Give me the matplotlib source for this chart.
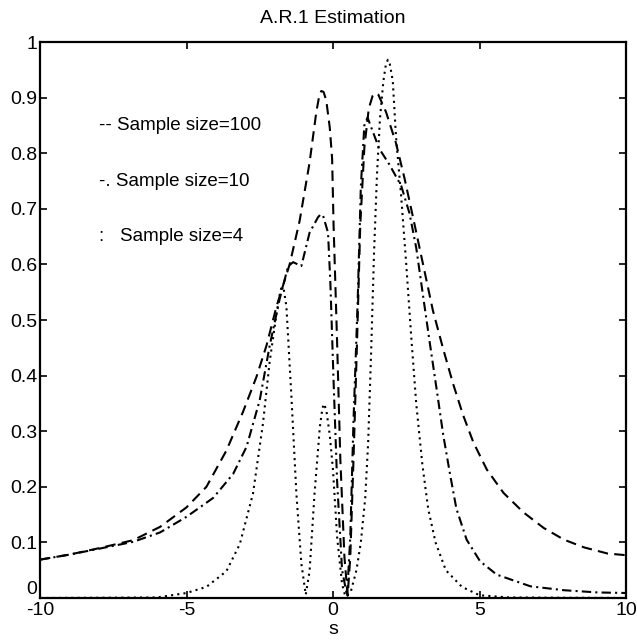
import matplotlib
matplotlib.use("Agg")
import matplotlib.pyplot as plt

# ---- data ----
x_n100 = [-10, -9, -7.95, -6.82, -5.9, -5, -4.32, -3.64, -3.07, -2.61, -2.27, -1.93,
          -1.48, -1.14, -0.8, -0.57, -0.47, -0.40, -0.32, -0.23, -0.11, -0.03, 0.02,
          0.14, 0.25, 0.39, 0.5, 0.59, 0.7, 0.82, 0.93, 1.07, 1.22, 1.35, 1.44, 1.55,
          1.81, 2.15, 2.44, 2.73, 3.07, 3.41, 3.76, 4.1, 4.44, 4.79, 5.25, 5.82, 6.5,
          7.19, 7.88, 8.57, 9.37, 10]
y_n100 = [0.069, 0.078, 0.09, 0.104, 0.128, 0.163, 0.20, 0.265, 0.335, 0.398, 0.454, 0.524,
          0.60, 0.678, 0.783, 0.874, 0.903, 0.912, 0.91, 0.895, 0.846, 0.79, 0.67,
          0.46, 0.25, 0.074, 0.004, 0.074, 0.25, 0.46, 0.67, 0.81, 0.88, 0.903, 0.908, 0.905,
          0.874, 0.818, 0.755, 0.685, 0.601, 0.517, 0.448, 0.385, 0.329, 0.28, 0.231, 0.189, 0.154,
          0.126, 0.105, 0.091, 0.08, 0.077]

x_n10 = [-10, -9, -7.95, -6.82, -5.9, -5, -4.09, -3.41, -2.95, -2.5, -2.16, -1.82, -1.53,
         -1.36, -1.2, -1.08, -0.8, -0.51, -0.42, -0.34, -0.17, -0.09, 0.02, 0.14, 0.31, 0.48,
         0.59, 0.7, 0.84, 0.95, 1.07, 1.18, 1.35, 1.58, 1.92, 2.33, 2.61, 2.84, 3.07, 3.3,
         3.53, 3.76, 3.99, 4.21, 4.56, 5.02, 5.59, 6.74, 7.88, 9.03, 10]
y_n10 = [0.069, 0.078, 0.089, 0.101, 0.118, 0.146, 0.18, 0.223, 0.272, 0.356, 0.454, 0.538, 0.597,
         0.604, 0.600, 0.597, 0.657, 0.685, 0.690, 0.688, 0.657, 0.567, 0.39, 0.21, 0.05, 0.004,
         0.11, 0.32, 0.53, 0.74, 0.85, 0.864, 0.84, 0.808, 0.78, 0.741, 0.692, 0.63, 0.545, 0.46,
         0.378, 0.294, 0.224, 0.161, 0.105, 0.066, 0.042, 0.021, 0.014, 0.01, 0.009]

x_n4 = [-10, -6, -5, -4.32, -3.64, -3.18, -2.73, -2.39, -2.16, -1.93, -1.82, -1.76, -1.68,
        -1.59, -1.42, -1.25, -1.08, -0.93, -0.8, -0.63, -0.45, -0.36, -0.3, -0.22, -0.11,
        0.0, 0.14, 0.31, 0.42, 0.6, 0.8, 0.95, 1.1, 1.2, 1.3, 1.4, 1.5, 1.6, 1.72, 1.8,
        1.87, 1.94, 2.04, 2.15, 2.33, 2.5, 2.67, 2.84, 3.05, 3.25, 3.5, 3.85, 4.4, 5.0, 6.0, 10]
y_n4 = [0.0, 0.001, 0.009, 0.02, 0.048, 0.097, 0.188, 0.314, 0.426, 0.51, 0.545, 0.559, 0.555,
        0.524, 0.363, 0.188, 0.062, 0.006, 0.048, 0.188, 0.307, 0.342, 0.349, 0.335, 0.293,
        0.23, 0.11, 0.025, 0.003, 0.01, 0.05, 0.10, 0.18, 0.28, 0.44, 0.62, 0.76, 0.86, 0.93, 0.958,
        0.968, 0.96, 0.93, 0.83, 0.72, 0.60, 0.47, 0.35, 0.24, 0.16, 0.10, 0.05, 0.02, 0.005, 0.001, 0.0]

legend_labels = ["-- Sample size=100", "-. Sample size=10", ":   Sample size=4"]
legend_y = [0.85, 0.75, 0.65]
x_ticks = [-10, -5, 0, 5, 10]
y_ticks = [0, 0.1, 0.2, 0.3, 0.4, 0.5, 0.6, 0.7, 0.8, 0.9, 1]
y_tick_labels = ["0", "0.1", "0.2", "0.3", "0.4", "0.5", "0.6", "0.7", "0.8", "0.9", "1"]

plt.rcParams['font.family'] = ['Liberation Sans', 'DejaVu Sans']

fig = plt.figure(figsize=(6.37, 6.41), dpi=100)
ax = fig.add_axes([40/637, 1-598/641, (626-40)/637, (598-42)/641])

lw = 1.5
ax.plot(x_n100, y_n100, color='black', lw=lw, linestyle=(0, (5.0, 3.0)))
ax.plot(x_n10, y_n10, color='black', lw=lw, linestyle=(0, (4.5, 2.0, 1.0, 2.0)))
ax.plot(x_n4, y_n4, color='black', lw=lw, linestyle=(0, (1.0, 2.0)))

ax.set_xlim(-10, 10)
ax.set_ylim(0, 1)
ax.set_xticks(x_ticks)
ax.set_xticklabels([str(t) for t in x_ticks])
ax.set_yticks(y_ticks)
ax.set_yticklabels(y_tick_labels)
ax.tick_params(direction='in', length=5, width=1.2, top=True, right=True,
               labelsize=14)
ax.tick_params(axis='x', pad=3)
ax.tick_params(axis='y', pad=2)
ax.get_yticklabels()[0].set_verticalalignment('bottom')
for s in ax.spines.values():
    s.set_linewidth(1.6)

for lab, yy in zip(legend_labels, legend_y):
    ax.text(-8.0, yy, lab, fontsize=13.5, va='center', ha='left')

ax.set_title("A.R.1 Estimation", fontsize=14, pad=14)
ax.set_xlabel("s", fontsize=14, labelpad=1)

fig.savefig("out.png", dpi=100)
